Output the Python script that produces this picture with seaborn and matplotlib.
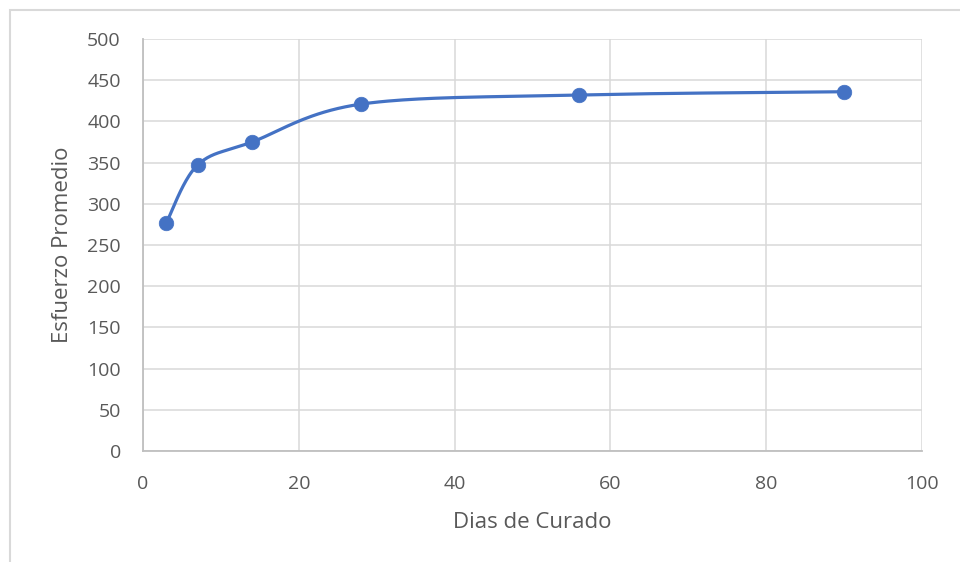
import numpy as np
import pandas as pd
import matplotlib
matplotlib.use("Agg")
import matplotlib.pyplot as plt
import seaborn as sns
from matplotlib.patches import Rectangle

# Curing age (days) and average strength
dias = [3, 7, 14, 28, 56, 90]
esfuerzo = [277, 347, 375, 421, 432, 436]
x_ticks = [0, 20, 40, 60, 80, 100]
y_ticks = [0, 50, 100, 150, 200, 250, 300, 350, 400, 450, 500]

sns.set_theme(style="white")
plt.rcParams["font.family"] = ["Open Sans", "DejaVu Sans"]

BLUE = "#4472C4"
TEXT = "#595959"


def smooth_curve(xs, ys, n=40):
    """Bezier smoothing through every point (Catmull-Rom style control points)."""
    pts = np.column_stack([xs, ys]).astype(float)
    ext = np.vstack([pts[0], pts, pts[-1]])
    out = []
    for i in range(1, len(ext) - 2):
        p0, p1, p2, p3 = ext[i - 1], ext[i], ext[i + 1], ext[i + 2]
        c1 = p1 + (p2 - p0) / 6.0
        c2 = p2 - (p3 - p1) / 6.0
        t = np.linspace(0, 1, n)[:, None]
        seg = ((1 - t) ** 3) * p1 + 3 * ((1 - t) ** 2) * t * c1 + 3 * (1 - t) * t ** 2 * c2 + t ** 3 * p2
        out.append(seg if i == 1 else seg[1:])
    curve = np.vstack(out)
    return curve[:, 0], curve[:, 1]


cx, cy = smooth_curve(dias, esfuerzo)
curve_df = pd.DataFrame({"x": cx, "y": cy})
pts_df = pd.DataFrame({"Dias de Curado": dias, "Esfuerzo Promedio": esfuerzo})

fig = plt.figure(figsize=(9.6, 5.62), dpi=100)
ax = fig.add_axes([143 / 960, 1 - 451 / 562, (922 - 143) / 960, (451 - 39) / 562])

# outer chart frame (left and top edges visible)
fig.patches.append(Rectangle((10 / 960, -0.5), 1.5, 1.5 - 10 / 562, transform=fig.transFigure,
                             fill=False, edgecolor="#d9d9d9", linewidth=1.5, zorder=0))

sns.lineplot(data=curve_df, x="x", y="y", ax=ax, color=BLUE, linewidth=2.3,
             sort=False, estimator=None, zorder=3)
sns.scatterplot(data=pts_df, x="Dias de Curado", y="Esfuerzo Promedio", ax=ax,
                color=BLUE, s=110, edgecolor=BLUE, linewidth=0.5, zorder=4)

ax.set_xlim(0, 100)
ax.set_ylim(0, 500)
ax.set_xticks(x_ticks)
ax.set_yticks(y_ticks)
ax.grid(True, color="#d9d9d9", linewidth=1.1)
ax.set_axisbelow(True)

for side in ["top", "right"]:
    ax.spines[side].set_visible(False)
for side in ["left", "bottom"]:
    ax.spines[side].set_color("#bfbfbf")
    ax.spines[side].set_linewidth(1.3)

ax.tick_params(axis="both", length=0, labelsize=14, labelcolor=TEXT)
ax.tick_params(axis="x", pad=17)
ax.tick_params(axis="y", pad=16)

ax.set_xlabel("Dias de Curado", fontsize=16, color=TEXT, labelpad=14)
ax.set_ylabel("Esfuerzo Promedio", fontsize=16, color=TEXT, labelpad=10)

fig.savefig("out.png", dpi=100)
